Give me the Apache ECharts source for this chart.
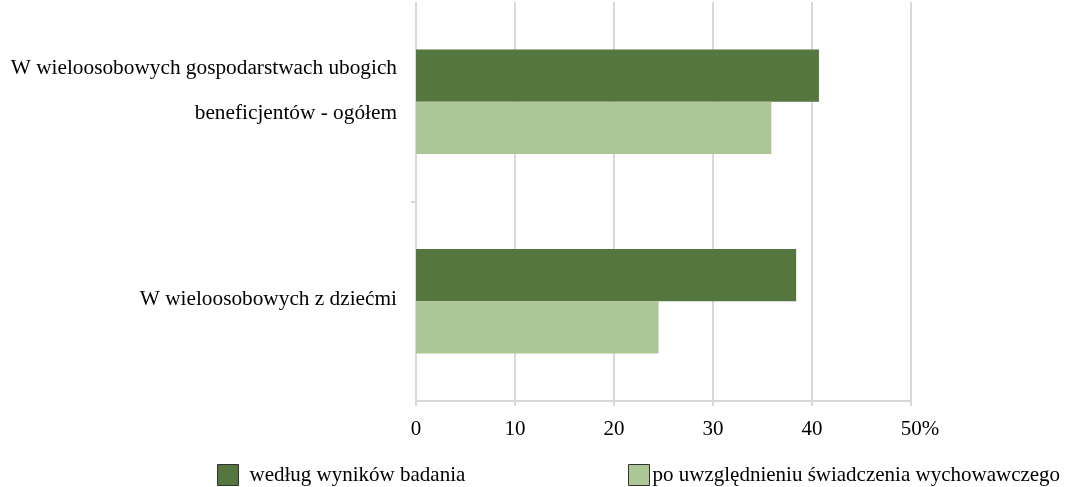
<!DOCTYPE html>
<html>
<head>
<meta charset="utf-8">
<script src="https://cdn.jsdelivr.net/npm/echarts@6/dist/echarts.min.js"></script>
<style>
html,body{margin:0;padding:0;background:#fff;}
#c{width:1075px;height:487px;}
</style>
</head>
<body>
<div id="c"></div>
<script>
const categories = [
  'W wieloosobowych gospodarstwach ubogich\nbeneficjentów - ogółem',
  'W wieloosobowych z dziećmi'
];
const seriesNames = ['według wyników badania', 'po uwzględnieniu świadczenia wychowawczego'];
const valuesSurvey = [40.7, 38.4];
const valuesBenefit = [35.9, 24.5];
const xTickLabels = ['0', '10', '20', '30', '40', '50%'];

const FONT = '"Liberation Serif", "Times New Roman", serif';
const chart = echarts.init(document.getElementById('c'), null, {renderer: 'canvas'});

chart.setOption({
  animation: false,
  backgroundColor: '#ffffff',
  grid: {left: 416, right: 164, top: 2, bottom: 86, containLabel: false},
  legend: [
    {
      data: [seriesNames[0]], left: 212, top: 459,
      icon: 'rect', itemWidth: 21, itemHeight: 21, itemGap: 10,
      textStyle: {fontFamily: FONT, fontSize: 21, color: '#000', padding: [0,0,0,6]},
      itemStyle: {borderColor: '#333', borderWidth: 1}
    },
    {
      data: [seriesNames[1]], left: 623, top: 459,
      icon: 'rect', itemWidth: 21, itemHeight: 21, itemGap: 10,
      textStyle: {fontFamily: FONT, fontSize: 21, color: '#000', padding: [0,0,0,-2]},
      itemStyle: {borderColor: '#333', borderWidth: 1}
    }
  ],
  xAxis: {
    type: 'value', min: 0, max: 50, interval: 10,
    axisLine: {show: true, onZero: false, lineStyle: {color: '#d9d9d9', width: 2}},
    axisTick: {show: true, length: 5, lineStyle: {color: '#d9d9d9', width: 2}},
    splitLine: {show: true, lineStyle: {color: '#d9d9d9', width: 2}},
    axisLabel: {
      fontFamily: FONT, fontSize: 21, color: '#000', margin: 18,
      formatter: function (v) {
        const s = xTickLabels[Math.round(v / 10)];
        return s.indexOf('%') >= 0 ? '{p|' + s + '}' : s;
      },
      rich: {p: {fontFamily: FONT, fontSize: 21, color: '#000', padding: [0, 0, 0, 18]}}
    }
  },
  yAxis: [
    {
      type: 'category', inverse: true, data: categories,
      axisLine: {show: false},
      axisTick: {show: false},
      axisLabel: {
        margin: 19, align: 'right',
        formatter: function (v, i) {
          const lines = v.split('\n').map(l => '{t|' + l + '}');
          if (i === 0) lines.push('{s| }');
          else lines.push('{u| }');
          return lines.join('\n');
        },
        rich: {
          t: {fontFamily: FONT, fontSize: 21.3, color: '#000', lineHeight: 45, align: 'right'},
          s: {fontSize: 10, lineHeight: 22},
          u: {fontSize: 4, lineHeight: 4}
        }
      }
    },
    {
      type: 'value', position: 'left', inverse: true, min: 0, max: categories.length, interval: 1,
      axisLine: {show: false, onZero: false},
      axisLabel: {show: false},
      splitLine: {show: false},
      axisTick: {show: true, length: 5, customValues: [1], lineStyle: {color: '#d9d9d9', width: 2}}
    }
  ],
  series: [
    {
      name: seriesNames[0], type: 'bar', data: valuesSurvey, yAxisIndex: 0,
      itemStyle: {color: '#56763F'}, barGap: '0%', barCategoryGap: '47.7%'
    },
    {
      name: seriesNames[1], type: 'bar', data: valuesBenefit, yAxisIndex: 0,
      itemStyle: {color: '#AAC795'}, barGap: '0%', barCategoryGap: '47.7%'
    }
  ]
});
</script>
</body>
</html>
